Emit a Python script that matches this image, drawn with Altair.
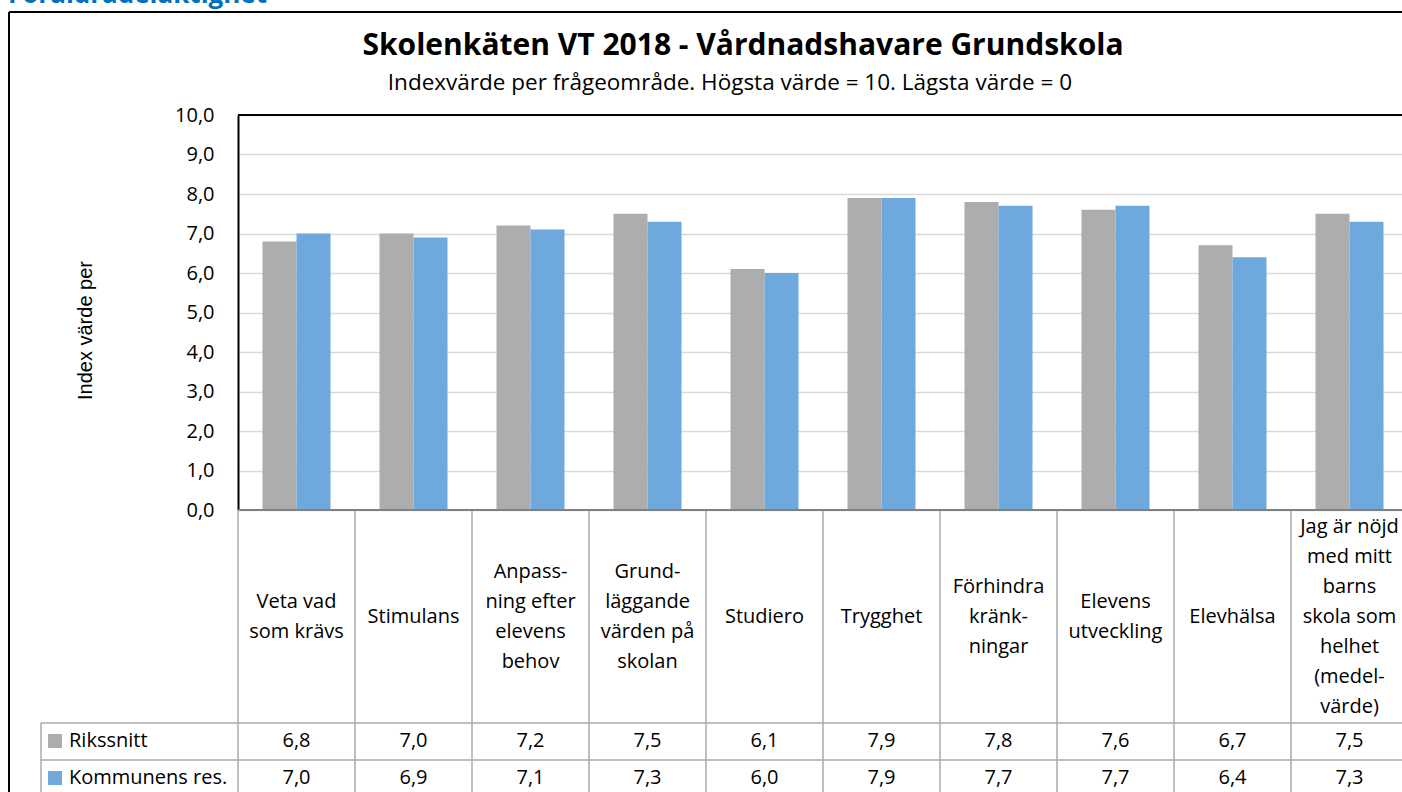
import altair as alt
import pandas as pd

# ---------------- data ----------------
categories = [
    "Veta vad som krävs", "Stimulans", "Anpassning efter elevens behov",
    "Grundläggande värden på skolan", "Studiero", "Trygghet",
    "Förhindra kränkningar", "Elevens utveckling", "Elevhälsa",
    "Jag är nöjd med mitt barns skola som helhet (medelvärde)",
]
category_labels = [
    "Veta vad\nsom krävs", "Stimulans", "Anpass-\nning efter\nelevens\nbehov",
    "Grund-\nläggande\nvärden på\nskolan", "Studiero", "Trygghet",
    "Förhindra\nkränk-\nningar", "Elevens\nutveckling", "Elevhälsa",
    "Jag är nöjd\nmed mitt\nbarns\nskola som\nhelhet\n(medel-\nvärde)",
]
series = ["Rikssnitt", "Kommunens res."]
rikssnitt = [6.8, 7.0, 7.2, 7.5, 6.1, 7.9, 7.8, 7.6, 6.7, 7.5]
kommunens = [7.0, 6.9, 7.1, 7.3, 6.0, 7.9, 7.7, 7.7, 6.4, 7.3]
y_ticks = [0, 1, 2, 3, 4, 5, 6, 7, 8, 9, 10]
colors = ["#ADADAD", "#6FA8DC"]

title_text = "Skolenkäten VT 2018 - Vårdnadshavare Grundskola"
subtitle_text = "Indexvärde per frågeområde. Högsta värde = 10. Lägsta värde = 0"
header_text = "Föräldradelaktighet"
y_title = "Index värde per"

rows = []
for s, vals in zip(series, [rikssnitt, kommunens]):
    for c, v in zip(categories, vals):
        rows.append({"cat": c, "series": s, "value": v})
long = pd.DataFrame(rows)
cats_df = pd.DataFrame({"cat": categories, "label": category_labels})
cats_df["nlines"] = cats_df["label"].str.count("\n") + 1
one = pd.DataFrame({"d": [0]})

FONT = "Open Sans"
W, H = 1164, 395
XR = 1170
LH = 30

x_scale = alt.Scale(domain=categories, range=[0, XR], paddingInner=0, paddingOuter=0)


def xcat(**kw):
    return alt.X("cat:N", sort=categories, scale=x_scale, axis=None, **kw)


bars = alt.Chart(long).mark_bar().encode(
    x=xcat(),
    xOffset=alt.XOffset("series:N", sort=series,
                        scale=alt.Scale(domain=series, paddingInner=0, paddingOuter=0.72)),
    y=alt.Y("value:Q", scale=alt.Scale(domain=[0, 10], nice=False),
            axis=alt.Axis(values=y_ticks,
                          labelExpr="replace(format(datum.value, '.1f'), '.', ',')",
                          labelFont=FONT, labelFontSize=20, labelColor="black",
                          labelPadding=24, ticks=False,
                          domainColor="black", domainWidth=2,
                          grid=True, gridColor="#D9D9D9", gridWidth=1.5,
                          title=y_title, titleFont="Liberation Sans", titleFontSize=20,
                          titleFontWeight="normal", titleColor="black",
                          titleX=-153, titleY=215, titleAngle=270,
                          titleAlign="center", titleBaseline="middle")),
    color=alt.Color("series:N", scale=alt.Scale(domain=series, range=colors), legend=None),
)

line_col = "#ABABAB"

x_axis_line = alt.Chart(one).mark_rule(color="#808080", strokeWidth=2).encode(
    x=alt.value(0), x2=alt.value(XR), y=alt.value(H))
top_border = alt.Chart(one).mark_rule(color="black", strokeWidth=2).encode(
    x=alt.value(0), x2=alt.value(XR), y=alt.value(0))

col_lines = alt.Chart(cats_df).mark_rule(color=line_col, strokeWidth=1.5).encode(
    x=xcat(bandPosition=0), y=alt.value(H + 1), y2=alt.value(700))
label_col_left = alt.Chart(one).mark_rule(color=line_col, strokeWidth=1.5).encode(
    x=alt.value(-197), y=alt.value(608), y2=alt.value(700))
hline1 = alt.Chart(one).mark_rule(color=line_col, strokeWidth=1.5).encode(
    x=alt.value(-197), x2=alt.value(XR), y=alt.value(608))
hline2 = alt.Chart(one).mark_rule(color=line_col, strokeWidth=1.5).encode(
    x=alt.value(-197), x2=alt.value(XR), y=alt.value(645))

# category labels, vertically centred in the label band
label_center = 502
cat_layers = []
for n in sorted(cats_df["nlines"].unique()):
    cat_layers.append(
        alt.Chart(cats_df).transform_filter(alt.datum.nlines == int(n))
        .mark_text(lineBreak="\n", font=FONT, fontSize=20, lineHeight=LH, color="black",
                   align="center", baseline="middle")
        .encode(x=xcat(), y=alt.value(label_center - (int(n) - 1) * LH / 2), text="label:N"))

row_y = {"Rikssnitt": 626, "Kommunens res.": 663}
value_layers = []
for s in series:
    base = alt.Chart(long).transform_filter(alt.datum.series == s)
    value_layers.append(
        base.transform_calculate(txt="replace(format(datum.value, '.1f'), '.', ',')")
        .mark_text(font=FONT, fontSize=20, color="black", align="center", baseline="middle")
        .encode(x=xcat(), y=alt.value(row_y[s]), text="txt:N"))
    sq = alt.Chart(pd.DataFrame({"series": [s]})).mark_square(size=196, opacity=1).encode(
        x=alt.value(-183), y=alt.value(row_y[s]),
        color=alt.Color("series:N", scale=alt.Scale(domain=series, range=colors), legend=None))
    lbl = alt.Chart(pd.DataFrame({"series": [s]})).mark_text(
        font=FONT, fontSize=20, color="black", align="left", baseline="middle").encode(
        x=alt.value(-169), y=alt.value(row_y[s]), text="series:N")
    value_layers += [sq, lbl]

frame_left = alt.Chart(one).mark_rule(color="black", strokeWidth=2).encode(
    x=alt.value(-229), y=alt.value(-103), y2=alt.value(700))
frame_top = alt.Chart(one).mark_rule(color="black", strokeWidth=2).encode(
    x=alt.value(-229), x2=alt.value(XR), y=alt.value(-103))

title = alt.Chart(one).mark_text(font=FONT, fontSize=30, fontWeight="bold", color="black",
                                 align="center", baseline="middle").encode(
    x=alt.value(505), y=alt.value(-69), text=alt.value(title_text))
subtitle = alt.Chart(one).mark_text(font=FONT, fontSize=22.5, color="black",
                                    align="center", baseline="middle").encode(
    x=alt.value(492), y=alt.value(-32), text=alt.value(subtitle_text))
header = alt.Chart(one).mark_text(font=FONT, fontSize=26, fontWeight="bold", color="#0070C0",
                                  align="left", baseline="alphabetic").encode(
    x=alt.value(-230), y=alt.value(-112), text=alt.value(header_text))

chart = alt.layer(
    bars, x_axis_line, top_border, col_lines, label_col_left, hline1, hline2,
    *cat_layers, *value_layers, frame_left, frame_top, title, subtitle, header,
).properties(
    width=W, height=H,
    padding={"left": 238, "top": 115, "right": 0, "bottom": 282},
    autosize=alt.AutoSizeParams(type="none"),
    background="white",
).configure_view(stroke=None)

chart.save("out.html", embed_options={"renderer": "svg", "actions": False})
